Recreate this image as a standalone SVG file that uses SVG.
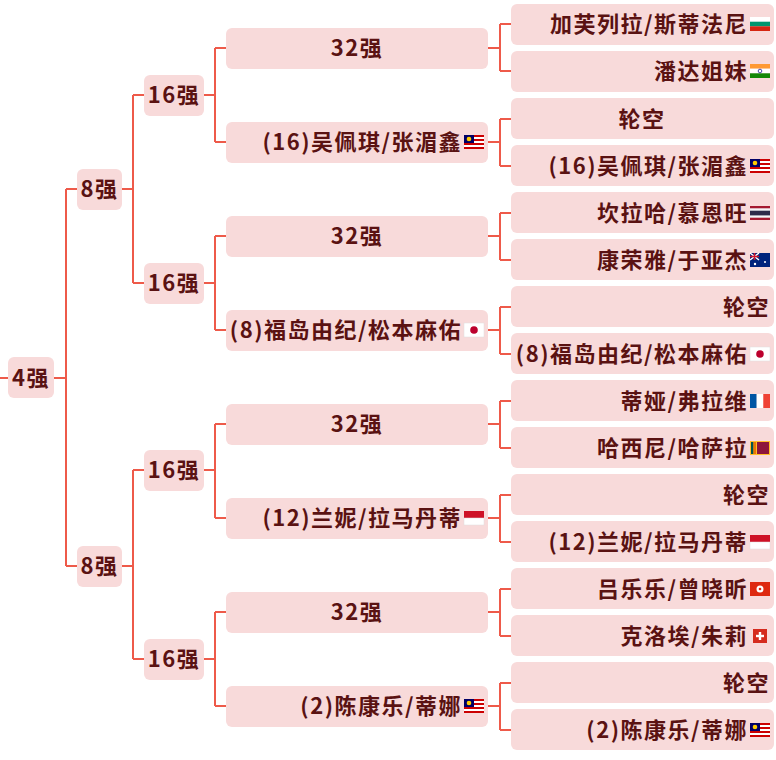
<svg xmlns="http://www.w3.org/2000/svg" width="776" height="760" viewBox="0 0 776 760">
<style>
.b{fill:#f8dada}
.t{font-family:"Noto Sans CJK SC","Noto Sans",sans-serif;font-size:22px;font-weight:700;fill:#5a1212;letter-spacing:1.5px}
.c{text-anchor:middle}
.r{text-anchor:end}
.l{fill:none;stroke:#ee5a4a;stroke-width:2}
</style>
<defs>
<g id="bg"><rect width="20" height="14" fill="#fff"/><rect y="4.7" width="20" height="4.7" fill="#00966e"/><rect y="9.3" width="20" height="4.7" fill="#d62612"/></g>
<g id="in"><rect width="20" height="4.7" fill="#f93"/><rect y="4.7" width="20" height="4.7" fill="#fff"/><rect y="9.3" width="20" height="4.7" fill="#138808"/><circle cx="10" cy="7" r="1.8" fill="none" stroke="#008" stroke-width="0.7"/></g>
<g id="my"><rect width="20" height="14" fill="#fff"/><rect y="0" width="20" height="2" fill="#cc0001"/><rect y="4" width="20" height="2" fill="#cc0001"/><rect y="8" width="20" height="2" fill="#cc0001"/><rect y="12" width="20" height="2" fill="#cc0001"/><rect width="10" height="8" fill="#010066"/><circle cx="5" cy="4" r="2.3" fill="#fc0"/></g>
<g id="th"><rect width="20" height="14" fill="#a51931"/><rect y="2.3" width="20" height="9.4" fill="#f4f5f8"/><rect y="4.7" width="20" height="4.7" fill="#2d2a4a"/></g>
<g id="au"><rect width="20" height="14" fill="#00247d"/><path d="M0 0L9 7M9 0L0 7" stroke="#fff" stroke-width="1.5"/><path d="M4.5 0V7M0 3.5H9" stroke="#cf142b" stroke-width="1.5"/><circle cx="15" cy="9" r="1" fill="#fff"/><circle cx="5" cy="11" r="1.2" fill="#fff"/></g>
<g id="jp"><rect width="20" height="14" fill="#fff" stroke="#ddd" stroke-width="0.5"/><circle cx="10" cy="7" r="3.8" fill="#bc002d"/></g>
<g id="fr"><rect width="6.7" height="14" fill="#0055a4"/><rect x="6.7" width="6.7" height="14" fill="#fff"/><rect x="13.3" width="6.7" height="14" fill="#ef4135"/></g>
<g id="lk"><rect width="20" height="14" fill="#ffbe29"/><rect x="1" y="1" width="2.5" height="12" fill="#00534e"/><rect x="3.5" y="1" width="2.5" height="12" fill="#eb7400"/><rect x="7" y="1" width="12" height="12" fill="#8d153a"/></g>
<g id="id"><rect width="20" height="7" fill="#ce1126"/><rect y="7" width="20" height="7" fill="#fff" stroke="#ddd" stroke-width="0.5"/></g>
<g id="hk"><rect width="20" height="14" fill="#de2910"/><circle cx="10" cy="7" r="3.5" fill="#fff"/><circle cx="10" cy="7" r="1.3" fill="#de2910"/></g>
<g id="ch"><rect x="3" width="14" height="14" fill="#d52b1e"/><rect x="8.8" y="3" width="2.4" height="8" fill="#fff"/><rect x="6" y="5.8" width="8" height="2.4" fill="#fff"/></g>
</defs>
<g id="connectors">
<path class="l" d="M0 378H8M54 378H66M66 189V566M66 189H77M66 566H77"/>
<path class="l" d="M122 189H133M133 95V283M133 95H144M133 283H144M122 566H133M133 470V659M133 470H144M133 659H144"/>
<path class="l" d="M204 95H215M215 48V142M215 48H226M215 142H226M204 283H215M215 236V330M215 236H226M215 330H226M204 470H215M215 424V518M215 424H226M215 518H226M204 659H215M215 612V706M215 612H226M215 706H226"/>
<path class="l" d="M488 48H500M500 24V71M500 24H511M500 71H511M488 142H500M500 119V166M500 119H511M500 166H511M488 236H500M500 213V260M500 213H511M500 260H511M488 330H500M500 307V354M500 307H511M500 354H511M488 424H500M500 401V448M500 401H511M500 448H511M488 518H500M500 495V542M500 495H511M500 542H511M488 612H500M500 589V636M500 589H511M500 636H511M488 706H500M500 683V730M500 683H511M500 730H511"/>
</g>
<g id="n4"><rect class="b" x="8" y="357" width="46" height="41" rx="6"/><text class="t c" x="31" y="386">4强</text></g>
<g id="n8a"><rect class="b" x="77" y="169" width="45" height="41" rx="6"/><text class="t c" x="99.5" y="197">8强</text></g>
<g id="n8b"><rect class="b" x="77" y="546" width="45" height="41" rx="6"/><text class="t c" x="99.5" y="574">8强</text></g>
<g id="n16a"><rect class="b" x="144" y="75" width="60" height="41" rx="6"/><text class="t c" x="174" y="103">16强</text></g>
<g id="n16b"><rect class="b" x="144" y="263" width="60" height="41" rx="6"/><text class="t c" x="174" y="291">16强</text></g>
<g id="n16c"><rect class="b" x="144" y="450" width="60" height="41" rx="6"/><text class="t c" x="174" y="478">16强</text></g>
<g id="n16d"><rect class="b" x="144" y="639" width="60" height="41" rx="6"/><text class="t c" x="174" y="667">16强</text></g>
<g id="n32a"><rect class="b" x="226" y="28" width="262" height="41" rx="6"/><text class="t c" x="357" y="56">32强</text></g>
<g id="n32b"><rect class="b" x="226" y="122" width="262" height="41" rx="6"/><text class="t r" x="462" y="150">(16)吴佩琪/张湄鑫</text><use href="#my" x="464" y="135"/></g>
<g id="n32c"><rect class="b" x="226" y="216" width="262" height="41" rx="6"/><text class="t c" x="357" y="244">32强</text></g>
<g id="n32d"><rect class="b" x="226" y="310" width="262" height="41" rx="6"/><text class="t r" x="462" y="338">(8)福岛由纪/松本麻佑</text><use href="#jp" x="464" y="323"/></g>
<g id="n32e"><rect class="b" x="226" y="404" width="262" height="41" rx="6"/><text class="t c" x="357" y="432">32强</text></g>
<g id="n32f"><rect class="b" x="226" y="498" width="262" height="41" rx="6"/><text class="t r" x="462" y="526">(12)兰妮/拉马丹蒂</text><use href="#id" x="464" y="511"/></g>
<g id="n32g"><rect class="b" x="226" y="592" width="262" height="41" rx="6"/><text class="t c" x="357" y="620">32强</text></g>
<g id="n32h"><rect class="b" x="226" y="686" width="262" height="41" rx="6"/><text class="t r" x="462" y="714">(2)陈康乐/蒂娜</text><use href="#my" x="464" y="699"/></g>
<g id="L1"><rect class="b" x="511" y="4" width="263" height="41" rx="6"/><text class="t r" x="748" y="32">加芙列拉/斯蒂法尼</text><use href="#bg" x="750" y="17"/></g>
<g id="L2"><rect class="b" x="511" y="51" width="263" height="41" rx="6"/><text class="t r" x="748" y="79">潘达姐妹</text><use href="#in" x="750" y="64"/></g>
<g id="L3"><rect class="b" x="511" y="98" width="263" height="41" rx="6"/><text class="t c" x="642" y="127">轮空</text></g>
<g id="L4"><rect class="b" x="511" y="145" width="263" height="41" rx="6"/><text class="t r" x="748" y="174">(16)吴佩琪/张湄鑫</text><use href="#my" x="750" y="159"/></g>
<g id="L5"><rect class="b" x="511" y="192" width="263" height="41" rx="6"/><text class="t r" x="748" y="221">坎拉哈/慕恩旺</text><use href="#th" x="750" y="206"/></g>
<g id="L6"><rect class="b" x="511" y="239" width="263" height="41" rx="6"/><text class="t r" x="748" y="268">康荣雅/于亚杰</text><use href="#au" x="750" y="253"/></g>
<g id="L7"><rect class="b" x="511" y="286" width="263" height="41" rx="6"/><text class="t r" x="770" y="315">轮空</text></g>
<g id="L8"><rect class="b" x="511" y="333" width="263" height="41" rx="6"/><text class="t r" x="748" y="362">(8)福岛由纪/松本麻佑</text><use href="#jp" x="750" y="347"/></g>
<g id="L9"><rect class="b" x="511" y="380" width="263" height="41" rx="6"/><text class="t r" x="748" y="409">蒂娅/弗拉维</text><use href="#fr" x="750" y="394"/></g>
<g id="L10"><rect class="b" x="511" y="427" width="263" height="41" rx="6"/><text class="t r" x="748" y="456">哈西尼/哈萨拉</text><use href="#lk" x="750" y="441"/></g>
<g id="L11"><rect class="b" x="511" y="474" width="263" height="41" rx="6"/><text class="t r" x="770" y="503">轮空</text></g>
<g id="L12"><rect class="b" x="511" y="521" width="263" height="41" rx="6"/><text class="t r" x="748" y="550">(12)兰妮/拉马丹蒂</text><use href="#id" x="750" y="535"/></g>
<g id="L13"><rect class="b" x="511" y="568" width="263" height="41" rx="6"/><text class="t r" x="748" y="597">吕乐乐/曾晓昕</text><use href="#hk" x="750" y="582"/></g>
<g id="L14"><rect class="b" x="511" y="615" width="263" height="41" rx="6"/><text class="t r" x="748" y="644">克洛埃/朱莉</text><use href="#ch" x="750" y="629"/></g>
<g id="L15"><rect class="b" x="511" y="662" width="263" height="41" rx="6"/><text class="t r" x="770" y="691">轮空</text></g>
<g id="L16"><rect class="b" x="511" y="709" width="263" height="41" rx="6"/><text class="t r" x="748" y="738">(2)陈康乐/蒂娜</text><use href="#my" x="750" y="723"/></g>
</svg>
